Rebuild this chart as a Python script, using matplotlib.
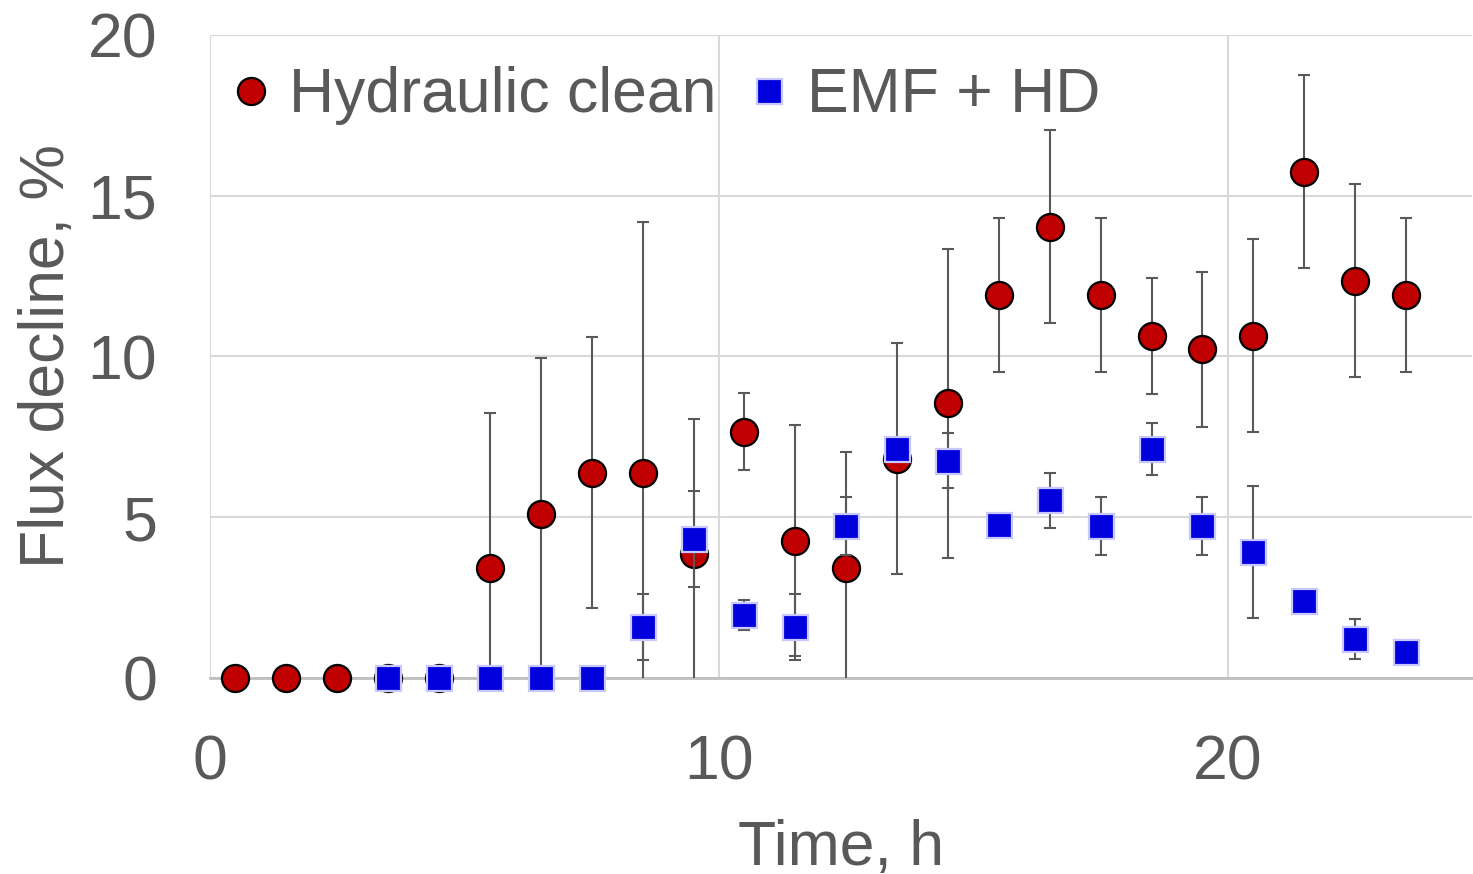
import matplotlib
matplotlib.use("Agg")
import matplotlib.pyplot as plt
import numpy as np

plt.rcParams['font.family'] = ['Liberation Sans', 'DejaVu Sans']

time_red = [0.5, 1.5, 2.5, 3.5, 4.5, 5.5, 6.5, 7.5, 8.5, 9.5, 10.5, 11.5, 12.5,
            13.5, 14.5, 15.5, 16.5, 17.5, 18.5, 19.5, 20.5, 21.5, 22.5, 23.5]
hydraulic = [0, 0, 0, 0, 0, 3.43, 5.1, 6.39, 6.39, 3.86, 7.66, 4.27, 3.42,
             6.82, 8.54, 11.91, 14.04, 11.91, 10.63, 10.22, 10.64, 15.75, 12.36, 11.92]
hydraulic_err = [0, 0, 0, 0, 0, 4.82, 4.84, 4.2, 7.8, 4.18, 1.19, 3.6, 3.6,
                 3.6, 4.8, 2.4, 3.0, 2.4, 1.8, 2.4, 3.0, 3.0, 3.0, 2.4]

time_blue = [3.5, 4.5, 5.5, 6.5, 7.5, 8.5, 9.5, 10.5, 11.5, 12.5, 13.5, 14.5,
             15.5, 16.5, 17.5, 18.5, 19.5, 20.5, 21.5, 22.5, 23.5]
emf_hd = [0, 0, 0, 0, 0, 1.59, 4.32, 1.96, 1.59, 4.74, 7.13, 6.76,
          4.75, 5.52, 4.74, 7.12, 4.74, 3.93, 2.4, 1.22, 0.8]
emf_hd_err = [0, 0, 0, 0, 0, 1.03, 1.48, 0.46, 1.03, 0.9, 0.3, 0.86,
              0.3, 0.86, 0.9, 0.8, 0.9, 2.05, 0.3, 0.62, 0.3]

x_ticks = [0, 10, 20]
y_ticks = [0, 5, 10, 15, 20]

txt = '#595959'
fig = plt.figure(figsize=(14.73, 8.74), dpi=100)
ax = fig.add_axes([0.1426, 0.2243, 0.8568, 0.7357])

ax.errorbar(time_red, hydraulic, yerr=hydraulic_err, fmt='none', ecolor='#595959',
            elinewidth=1.5, capsize=4.5, capthick=1.5, zorder=3)
ax.plot(time_red, hydraulic, 'o', ms=19.5, mfc='#c00000', mec='black', mew=1.6,
        label='Hydraulic clean', zorder=4, clip_on=False)
ax.errorbar(time_blue, emf_hd, yerr=emf_hd_err, fmt='none', ecolor='#595959',
            elinewidth=1.5, capsize=4.5, capthick=1.5, zorder=5)
ax.plot(time_blue, emf_hd, 's', ms=18, mfc='#0000dd', mec='#c8c8ff', mew=1.6,
        label='EMF + HD', zorder=6, clip_on=False)

ax.set_xlim(0, 24.8)
ax.set_ylim(0, 20)
ax.set_xticks(x_ticks)
ax.set_yticks(y_ticks)
ax.grid(True, color='#d9d9d9', linewidth=1.5, zorder=0)
ax.set_axisbelow(True)
for s in ['top', 'right', 'left']:
    ax.spines[s].set_visible(False)
ax.spines['bottom'].set_color('#bfbfbf')
ax.spines['bottom'].set_linewidth(2)
ax.tick_params(axis='both', length=0, labelsize=45, labelcolor=txt)
ax.tick_params(axis='x', pad=40)
ax.tick_params(axis='y', pad=38)

ax.set_xlabel('Time, h', fontsize=45, color=txt, labelpad=19)
ax.set_ylabel('Flux decline, %', fontsize=45, color=txt, labelpad=8)

leg = ax.legend(loc='upper left', bbox_to_anchor=(-0.017, 0.99), ncol=2, frameon=False,
                fontsize=45, handletextpad=0.0, columnspacing=0.25, borderaxespad=0.1,
                handlelength=1.2, borderpad=0.3)
for t in leg.get_texts():
    t.set_color(txt)

fig.savefig('out.png', dpi=100)
